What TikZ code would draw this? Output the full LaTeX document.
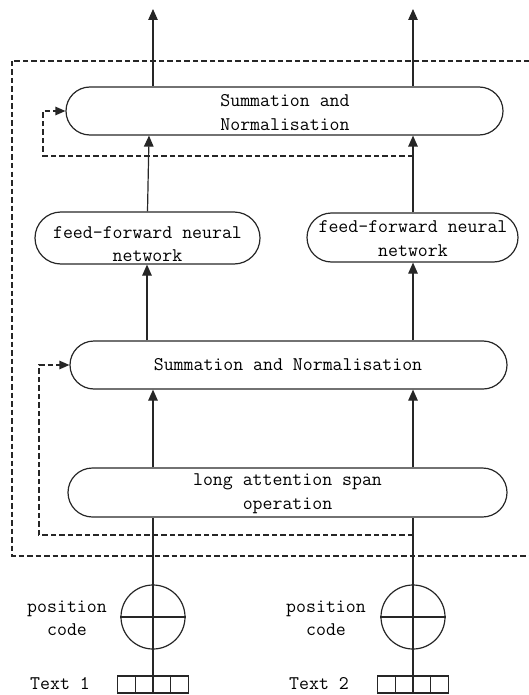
\documentclass[tikz,border=0pt]{standalone}
\usetikzlibrary{shapes.misc,arrows.meta}
\begin{document}
\begin{tikzpicture}[x=1pt,y=-1pt,
  box/.style={draw=black!85, line width=1.2pt, rounded rectangle, inner sep=0pt},
  lbl/.style={font=\ttfamily\fontsize{19.3}{23.5}\selectfont, align=center, text=black, inner sep=0pt},
  wire/.style={draw=black!85, line width=1.2pt},
  flow/.style={wire, -{Triangle[length=11pt,width=9.5pt]}},
  skip/.style={wire, dash pattern=on 5.5pt off 3pt, -{Triangle[length=10pt,width=8.5pt]}},
  cell/.style={draw=black!85, line width=1.2pt, minimum width=17.75pt, minimum height=17pt, inner sep=0pt, outer sep=0pt},
]
\useasboundingbox (0,0) rectangle (529,695);
\clip (0,0) rectangle (529,695);

% column positions and free ends
\coordinate (colL) at (153,0);
\coordinate (colR) at (413,0);
\coordinate (colF) at (147,0);
\coordinate (outL) at (153,9);
\coordinate (outR) at (413,9);
\coordinate (lp1) at (43,0);
\coordinate (lp2) at (39,0);

% encoder block frame (runs off the right edge)
\draw[wire, dash pattern=on 5.5pt off 3pt] (12,61) rectangle (545,556);

% layer boxes
\node[box, minimum width=437pt, minimum height=48pt] (sum1) at (284.5,111) {};
\node[lbl] (sum1t) at (285,112.5) {Summation and\\Normalisation};

\node[box, minimum width=225pt, minimum height=52pt] (ffn1) at (147.5,238) {};
\node[lbl] (ffn1t) at (147.5,244) {feed-forward neural\\network};

\node[box, minimum width=211pt, minimum height=49pt] (ffn2) at (412.5,237.5) {};
\node[lbl] (ffn2t) at (413,238.5) {feed-forward neural\\network};

\node[box, minimum width=437pt, minimum height=48pt] (sum2) at (288.5,365) {};
\node[lbl] (sum2t) at (288,365) {Summation and Normalisation};

\node[box, minimum width=439pt, minimum height=49pt] (las) at (287.5,492.5) {};
\node[lbl] (last) at (287.5,493.5) {long attention span\\operation};

% positional encoding adders
\node[circle, draw=black!85, line width=1.2pt, minimum size=64pt, inner sep=0pt] (pe1) at (153,617) {};
\node[circle, draw=black!85, line width=1.2pt, minimum size=64pt, inner sep=0pt] (pe2) at (413,617) {};
\draw[wire] (pe1.west) -- (pe1.east);
\draw[wire] (pe2.west) -- (pe2.east);
\node[lbl] (pc1) at (67,618) {position\\code};
\node[lbl] (pc2) at (326,618) {position\\code};

% token arrays
\foreach \i in {1,...,4} {
  \node[cell] (a\i) at ({117.5+8.875+17.75*(\i-1)},684.5) {};
  \node[cell] (b\i) at ({377.5+8.875+17.75*(\i-1)},684.5) {};
}
\node[lbl] (tx1) at (60,684) {Text 1};
\node[lbl] (tx2) at (319,684) {Text 2};

% inputs up to the attention block
\draw[wire] (a2.north east) -- (a2.north east |- las.south);
\draw[wire] (b2.north east) -- (b2.north east |- las.south);

% attention -> add & norm
\draw[flow] (colL |- las.north) -- (colL |- sum2.south);
\draw[flow] (colR |- las.north) -- (colR |- sum2.south);

% add & norm -> feed-forward
\draw[flow] (colF |- sum2.north) -- (colF |- ffn1.south);
\draw[flow] (colR |- sum2.north) -- (colR |- ffn2.south);

% feed-forward -> add & norm
\draw[flow] (ffn1.north) -- ([xshift=1.5pt]ffn1.north |- sum1.south);
\draw[flow] (colR |- ffn2.north) -- (colR |- sum1.south);

% outputs
\draw[flow] (colL |- sum1.north) -- (outL);
\draw[flow] (colR |- sum1.north) -- (outR);

% residual connections
\coordinate (tap2) at (413,535);
\draw[skip] (tap2) -- (tap2 -| lp2) |- (sum2.west);
\coordinate (tap1) at (413,156);
\draw[skip] (tap1) -- (tap1 -| lp1) |- (sum1.west);
\end{tikzpicture}
\end{document}
